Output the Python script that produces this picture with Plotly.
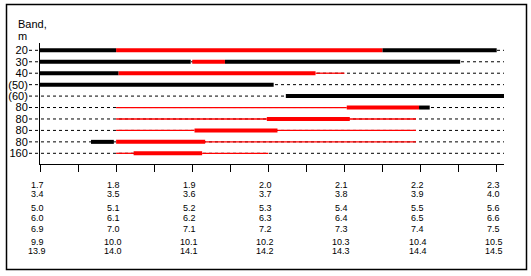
import plotly.graph_objects as go

# ---------------- data ----------------
# frequency scales (MHz) printed under the axis, one row per band
scale_160 = [1.7, 1.8, 1.9, 2.0, 2.1, 2.2, 2.3]
scale_80 = [3.4, 3.5, 3.6, 3.7, 3.8, 3.9, 4.0]
scale_60 = [5.0, 5.1, 5.2, 5.3, 5.4, 5.5, 5.6]
scale_50 = [6.0, 6.1, 6.2, 6.3, 6.4, 6.5, 6.6]
scale_40 = [6.9, 7.0, 7.1, 7.2, 7.3, 7.4, 7.5]
scale_30 = [9.9, 10.0, 10.1, 10.2, 10.3, 10.4, 10.5]
scale_20 = [13.9, 14.0, 14.1, 14.2, 14.3, 14.4, 14.5]
label_rows = [scale_160, scale_80, scale_60, scale_50, scale_40, scale_30, scale_20]

# band rows (top to bottom) and the scale each one uses
bands = ["20", "30", "40", "(50)", "(60)", "80", "80", "80", "80", "160"]
band_scale = [scale_20, scale_30, scale_40, scale_50, scale_60,
              scale_80, scale_80, scale_80, scale_80, scale_160]

# segments per row: (start MHz, end MHz, kind)  K = black thick, R = red thick, r = red thin
segments = [
    [(13.9, 14.0, "K"), (14.0, 14.35, "R"), (14.35, 14.5, "K")],
    [(9.9, 10.098, "K"), (10.1, 10.143, "R"), (10.143, 10.452, "K")],
    [(6.9, 7.003, "K"), (7.003, 7.262, "R"), (7.262, 7.3, "r")],
    [(6.0, 6.307, "K")],
    [(5.323, 5.62, "K")],
    [(3.5, 3.803, "r"), (3.803, 3.898, "R"), (3.898, 3.912, "K")],
    [(3.5, 3.698, "r"), (3.698, 3.807, "R"), (3.807, 3.894, "r")],
    [(3.5, 3.603, "r"), (3.603, 3.712, "R"), (3.712, 3.894, "r")],
    [(3.467, 3.497, "K"), (3.5, 3.617, "R"), (3.617, 3.894, "r")],
    [(1.8, 1.823, "r"), (1.823, 1.913, "R"), (1.913, 2.0, "r")],
]

# ---------------- layout geometry (pixels) ----------------
W, H = 531, 276
ML, MR, MT, MB = 40, 27, 43, 112
PW, PH = W - ML - MR, H - MT - MB


def px_x(px):
    return (px - ML) / PW


def px_y(py):
    return (H - MB - py) / PH


FONT = "Liberation Sans, Arial, sans-serif"

styles = {
    "r": dict(color="#ff0000", width=1.3),
    "R": dict(color="#ff0000", width=4),
    "K": dict(color="#000000", width=4),
}

fig = go.Figure()

for kind in ["r", "R", "K"]:
    xs, ys = [], []
    for row, segs in enumerate(segments):
        base = band_scale[row][0]
        for a, b, k in segs:
            if k != kind:
                continue
            xs += [a - base, b - base, None]
            ys += [row, row, None]
    fig.add_trace(go.Scatter(x=xs, y=ys, mode="lines", line=styles[kind],
                             hoverinfo="skip", showlegend=False))

shapes = []
# dashed guide lines for each band row (extend left to the labels)
for row in range(len(bands)):
    shapes.append(dict(type="line", xref="paper", yref="y", x0=px_x(29), x1=1,
                       y0=row, y1=row, layer="below",
                       line=dict(color="black", width=1, dash="3px,3px")))
# outer frame
shapes.append(dict(type="rect", xref="paper", yref="paper",
                   x0=px_x(6.5), x1=px_x(526.5), y0=px_y(269.5), y1=px_y(4.5),
                   line=dict(color="black", width=1.5), fillcolor="rgba(0,0,0,0)"))

annotations = []
# frequency labels under the axis
row_py = [184.5, 194, 208, 217.5, 229, 241.5, 251]
for r, vals in enumerate(label_rows):
    for c, v in enumerate(vals):
        annotations.append(dict(
            x=v - vals[0], xref="x", y=0, yref="paper", yanchor="middle",
            yshift=-(row_py[r] - (H - MB)), xshift=-3,
            text=f"{v:.1f}", showarrow=False,
            font=dict(family=FONT, size=9, color="black")))
# axis title
annotations.append(dict(x=px_x(16), xref="paper", xanchor="left", y=1, yref="paper",
                        yanchor="middle", yshift=MT - 24, text="Band,", showarrow=False,
                        font=dict(family=FONT, size=11, color="black")))
annotations.append(dict(x=px_x(16), xref="paper", xanchor="left", y=1, yref="paper",
                        yanchor="middle", yshift=MT - 36, text="m", showarrow=False,
                        font=dict(family=FONT, size=11, color="black")))

x_end = 0.6096
fig.update_layout(
    template="none",
    width=W, height=H,
    margin=dict(l=ML, r=MR, t=MT, b=MB, pad=0, autoexpand=False),
    paper_bgcolor="white", plot_bgcolor="white",
    shapes=shapes, annotations=annotations,
    xaxis=dict(range=[0, x_end], showgrid=False, zeroline=False, automargin=False,
               showline=True, linecolor="black", linewidth=1,
               tickmode="array", tickvals=[i * 0.05 for i in range(13)],
               ticktext=[""] * 13, ticks="outside", ticklen=7, tickwidth=1,
               tickcolor="black"),
    yaxis=dict(range=[len(bands) - 0.065, -0.64], showgrid=False, zeroline=False,
               automargin=False,
               showline=True, linecolor="black", linewidth=1,
               tickmode="array", tickvals=list(range(len(bands))), ticktext=bands,
               ticks="outside", ticklen=9, tickcolor="rgba(0,0,0,0)",
               tickfont=dict(family=FONT, size=11, color="black")),
)

fig.write_html("out.html")
